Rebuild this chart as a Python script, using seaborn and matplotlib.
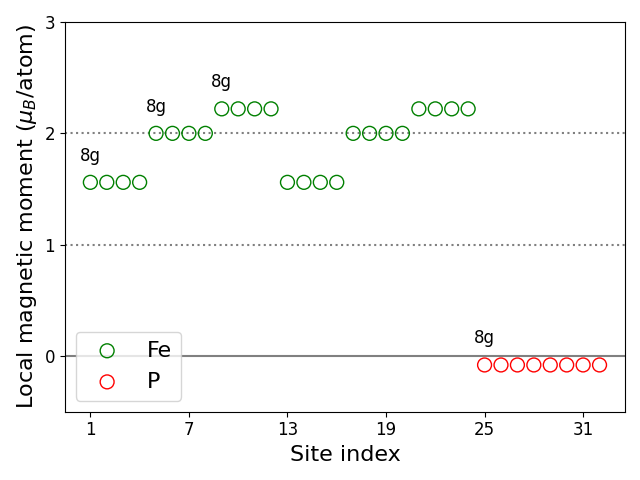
import matplotlib
matplotlib.use("Agg")
import matplotlib.pyplot as plt
import seaborn as sns
import numpy as np

fe_sites = list(range(1, 25))
fe_moments = [1.56]*4 + [2.00]*4 + [2.22]*4 + [1.56]*4 + [2.00]*4 + [2.22]*4
p_sites = list(range(25, 33))
p_moments = [-0.08]*8
label_sites = [1, 5, 9, 25]
label_texts = ["8g", "8g", "8g", "8g"]
xticks = [1, 7, 13, 19, 25, 31]
yticks = [0, 1, 2, 3]

fig, ax = plt.subplots(figsize=(6.4, 4.8), dpi=100)
sns.scatterplot(x=fe_sites, y=fe_moments, ax=ax, marker="o", s=100,
                facecolors="none", edgecolor="green", linewidth=1.0, label="Fe")
sns.scatterplot(x=p_sites, y=p_moments, ax=ax, marker="o", s=100,
                facecolors="none", edgecolor="red", linewidth=1.0, label="P")

ax.axhline(0, color="gray", lw=1.5, zorder=0)
ax.axhline(1, color="gray", lw=1.5, ls=":", zorder=0)
ax.axhline(2, color="gray", lw=1.5, ls=":", zorder=0)

allx = fe_sites + p_sites
ally = fe_moments + p_moments
for s, t in zip(label_sites, label_texts):
    ax.text(s, ally[allx.index(s)] + 0.16, t, ha="center", va="bottom", fontsize=12)

ax.set_ylim(-0.5, 3)
ax.set_xticks(xticks)
ax.set_yticks(yticks)
ax.tick_params(labelsize=12)
ax.set_xlabel("Site index", fontsize=16)
ax.set_ylabel(r"Local magnetic moment ($\mu_B$/atom)", fontsize=16)
ax.legend(loc="lower left", fontsize=16)
fig.tight_layout()
fig.savefig("out.png", dpi=100)
